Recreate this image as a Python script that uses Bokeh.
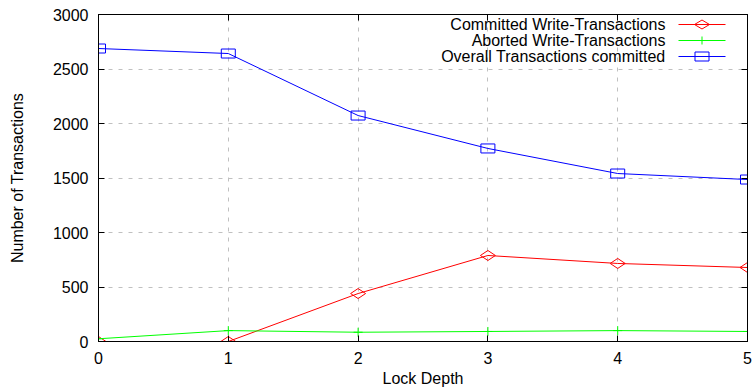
import math
from bokeh.plotting import figure
from bokeh.models import (Range1d, LinearAxis, FixedTicker, CustomJSTickFormatter,
                          Label, Arrow, PolyAnnotation)
from bokeh.embed import file_html
from bokeh.resources import INLINE

lock_depth = [0, 1, 2, 3, 4, 5]
committed_write = [0, 0, 440, 789, 716, 679]
aborted_write = [25, 100, 85, 92, 100, 92]
overall_committed = [2688, 2642, 2073, 1771, 1541, 1486]
x_ticks = [0, 1, 2, 3, 4, 5]
y_ticks = [0, 500, 1000, 1500, 2000, 2500, 3000]
series_names = ["Committed Write-Transactions", "Aborted Write-Transactions",
                "Overall Transactions committed"]
series_colors = ["#ff0000", "#00ff00", "#0000ff"]

FONT = "Liberation Sans"
FS = "16px"

p = figure(width=753, height=389, output_backend="svg", toolbar_location=None,
           x_range=Range1d(0, 5), y_range=Range1d(0, 3000),
           min_border_left=98, min_border_right=6, min_border_top=14, min_border_bottom=48)
p.outline_line_color = "black"
p.outline_line_width = 1
p.background_fill_color = "white"
p.border_fill_color = "white"

# axes
for ax in [p.xaxis[0], p.yaxis[0]]:
    ax.major_tick_in = 6
    ax.major_tick_out = 0
    ax.minor_tick_in = 0
    ax.minor_tick_out = 0
    ax.axis_line_color = "black"
    ax.major_tick_line_color = "black"
    ax.major_label_text_font = FONT
    ax.major_label_text_font_size = FS
    ax.major_label_text_color = "black"
    ax.axis_label_text_font = FONT
    ax.axis_label_text_font_size = FS
    ax.axis_label_text_font_style = "normal"
    ax.axis_label_text_color = "black"
p.xaxis[0].ticker = FixedTicker(ticks=x_ticks)
p.yaxis[0].ticker = FixedTicker(ticks=y_ticks)
p.xaxis[0].axis_label = "Lock Depth"
p.yaxis[0].axis_label = "Number of Transactions"
p.xaxis[0].major_label_standoff = 10
p.yaxis[0].major_label_standoff = 10
p.xaxis[0].axis_label_standoff = 3
p.yaxis[0].axis_label_standoff = 24

# mirror ticks
blank = CustomJSTickFormatter(code="return ''")
ax_r = LinearAxis(ticker=FixedTicker(ticks=y_ticks), formatter=blank,
                  major_tick_in=6, major_tick_out=0, minor_tick_in=0, minor_tick_out=0,
                  axis_line_color="black", major_label_text_font_size="1px")
ax_t = LinearAxis(ticker=FixedTicker(ticks=x_ticks), formatter=blank,
                  major_tick_in=6, major_tick_out=0, minor_tick_in=0, minor_tick_out=0,
                  axis_line_color="black", major_label_text_font_size="1px")
p.add_layout(ax_r, "right")
p.add_layout(ax_t, "above")

# grid
p.xgrid.ticker = FixedTicker(ticks=x_ticks[1:-1])
p.ygrid.ticker = FixedTicker(ticks=y_ticks[1:-1])
for g in [p.xgrid[0], p.ygrid[0]]:
    g.grid_line_color = "#c0c0c0"
    g.grid_line_dash = "4 6"
    g.grid_line_width = 1

# series
p.line(lock_depth, committed_write, line_color=series_colors[0], line_width=1)
p.scatter(lock_depth, committed_write, marker="diamond", size=15, angle=math.pi / 2,
          line_color=series_colors[0], fill_color=None, line_width=1)
p.line(lock_depth, aborted_write, line_color=series_colors[1], line_width=1)
p.scatter(lock_depth, aborted_write, marker="cross", size=9,
          line_color=series_colors[1], line_width=1)
p.line(lock_depth, overall_committed, line_color=series_colors[2], line_width=1)
p.rect(lock_depth, overall_committed, width=14, height=9, width_units="screen",
       height_units="screen", line_color=series_colors[2], fill_color=None, line_width=1)

# key (gnuplot style: right-aligned text, then sample), in frame screen units
key_text_right = 567
key_x0, key_x1 = 580, 627
key_cx = (key_x0 + key_x1) / 2
key_top = 317
key_step = 16
for i, (name, col) in enumerate(zip(series_names, series_colors)):
    ky = key_top - key_step * i
    p.add_layout(Label(x=key_text_right, y=ky, x_units="screen", y_units="screen",
                       text=name, text_align="right", text_baseline="middle",
                       text_font=FONT, text_font_size=FS, text_color="black"))
    p.add_layout(Arrow(end=None, x_start=key_x0, y_start=ky, x_end=key_x1, y_end=ky,
                       start_units="screen", end_units="screen",
                       line_color=col, line_width=1))
    if i == 0:
        xs = [key_cx - 7.5, key_cx, key_cx + 7.5, key_cx]
        ys = [ky, ky + 4.5, ky, ky - 4.5]
        p.add_layout(PolyAnnotation(xs=xs, ys=ys, xs_units="screen", ys_units="screen",
                                    fill_color=None, line_color=col, line_alpha=1,
                                    line_width=1))
    elif i == 1:
        p.add_layout(Arrow(end=None, x_start=key_cx, y_start=ky - 4, x_end=key_cx,
                           y_end=ky + 4, start_units="screen", end_units="screen",
                           line_color=col, line_width=1))
    else:
        xs = [key_cx - 7, key_cx + 7, key_cx + 7, key_cx - 7]
        ys = [ky - 4.5, ky - 4.5, ky + 4.5, ky + 4.5]
        p.add_layout(PolyAnnotation(xs=xs, ys=ys, xs_units="screen", ys_units="screen",
                                    fill_color=None, line_color=col, line_alpha=1,
                                    line_width=1))

open("out.html", "w").write(file_html(p, INLINE))
